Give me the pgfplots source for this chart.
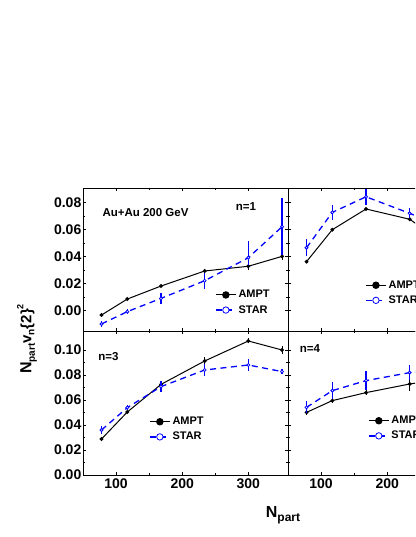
\documentclass[border=0pt]{standalone}
\usepackage{fontspec}
\setmainfont{Liberation Sans}
\usepackage{pgfplots}
\usepackage{pgfplotstable}
\pgfplotsset{compat=1.18}

% n=1
\pgfplotstableread{
x y e
78 -0.0032 0.001
117 0.0086 0.001
168 0.0182 0.001
234 0.0293 0.0015
300 0.0328 0.003
351 0.0401 0.003
}\tlampt
\pgfplotstableread{
x y ep em
78 -0.0098 0.002 0.002
117 -0.0007 0.002 0.002
168 0.0091 0.004 0.004
234 0.0221 0.006 0.006
300 0.0391 0.012 0.005
351 0.0620 0.021 0.021
}\tlstar
% n=2
\pgfplotstableread{
x y e
78 0.0362 0.001
117 0.0598 0.001
168 0.0751 0.001
234 0.0675 0.0015
300 0.0450 0.002
351 0.0400 0.003
}\trampt
\pgfplotstableread{
x y ep em
78 0.0465 0.0064 0.0064
117 0.0726 0.0058 0.0058
168 0.0841 0.006 0.006
234 0.0719 0.0037 0.0037
300 0.0580 0.006 0.006
351 0.0500 0.010 0.010
}\trstar
% n=3
\pgfplotstableread{
x y e
78 0.0288 0.001
117 0.0504 0.001
168 0.0725 0.0015
234 0.0912 0.003
300 0.1072 0.002
351 0.1000 0.003
}\blampt
\pgfplotstableread{
x y ep em
78 0.0360 0.003 0.003
117 0.0539 0.002 0.002
168 0.0707 0.0047 0.0047
234 0.0840 0.005 0.005
300 0.0880 0.005 0.005
351 0.0827 0.002 0.002
}\blstar
% n=4
\pgfplotstableread{
x y e
78 0.0501 0.0025
117 0.0595 0.002
168 0.0659 0.002
234 0.0728 0.006
300 0.0780 0.006
351 0.0800 0.006
}\brampt
\pgfplotstableread{
x y ep em
78 0.0541 0.0047 0.0047
117 0.0675 0.007 0.007
168 0.0755 0.0076 0.0076
234 0.0819 0.006 0.006
300 0.0860 0.006 0.006
351 0.0880 0.006 0.006
}\brstar

\tikzset{lbl/.style={font=\bfseries\fontsize{11.5}{11.5}\selectfont}}
\pgfplotsset{
  panel/.style={scale only axis, width=205pt, height=143pt, anchor=south west,
    clip mode=individual, scaled y ticks=false, scaled x ticks=false,
    xmin=50, xmax=360, xtick={100,200,300}, minor x tick num=1, minor y tick num=1,
    tick align=inside, tick pos=both, major tick length=3pt, minor tick length=2pt,
    axis line style={line width=0.7pt}, every tick/.style={black,line width=0.6pt},
    tick label style={font=\bfseries\fontsize{14}{14}\selectfont},
    /pgf/number format/assume math mode=true,
    yticklabel style={/pgf/number format/fixed, /pgf/number format/fixed zerofill,
      /pgf/number format/precision=2, inner xsep=1.5pt},
    legend style={draw=none, fill=none, font=\bfseries\fontsize{11}{11}\selectfont,
      inner sep=0pt, row sep=2pt, anchor=west, cells={anchor=west}},
    legend image code/.code={\draw[##1, mark repeat=2, mark phase=2]
      plot coordinates {(0pt,0pt) (10pt,0pt) (20pt,0pt)};},
    legend image post style={mark size=3.2pt},
  },
  ampt/.style={black, line width=1pt, mark=*, mark size=1.4pt,
    error bars/.cd, y dir=both, y explicit, error mark=none,
    error bar style={line width=1pt}},
  star/.style={blue, dash pattern=on 6pt off 4.5pt, line width=1.3pt, mark=*, mark size=1.5pt,
    mark options={solid, fill=white, line width=0.8pt},
    error bars/.cd, y dir=both, y explicit, error mark=none,
    error bar style={solid, line width=1.3pt}},
}

\begin{document}
\begin{tikzpicture}[x=1pt,y=1pt]
\path[use as bounding box, clip] (0,0) rectangle (415,537);

% top left, n=1
\begin{axis}[panel, at={(83pt,206pt)}, ymin=-0.015, ymax=0.0906,
  ytick={0,0.02,...,0.081}, xticklabels={},
  legend style={at={(0.644,0.199)}}]
\addplot[ampt] table[x=x,y=y,y error=e]{\tlampt};
\addplot[star] table[x=x,y=y,y error plus=ep,y error minus=em]{\tlstar};
\legend{AMPT,STAR}
\node[lbl, anchor=west] at (rel axis cs:0.078,0.825) {Au+Au 200 GeV};
\node[lbl] at (rel axis cs:0.795,0.867) {n=1};
\end{axis}

% top right, n=2
\begin{axis}[panel, at={(288pt,206pt)}, ymin=-0.015, ymax=0.0906,
  ytick={0,0.02,...,0.081}, xticklabels={}, yticklabels={},
  legend style={at={(0.376,0.267)}}]
\addplot[ampt] table[x=x,y=y,y error=e]{\trampt};
\addplot[star] table[x=x,y=y,y error plus=ep,y error minus=em]{\trstar};
\legend{AMPT,STAR}
\end{axis}

% bottom left, n=3
\begin{axis}[panel, at={(83pt,62pt)}, height=144pt, ymin=0, ymax=0.1152,
  ytick={0,0.02,...,0.101},
  legend style={at={(0.322,0.317)}}]
\addplot[ampt] table[x=x,y=y,y error=e]{\blampt};
\addplot[star] table[x=x,y=y,y error plus=ep,y error minus=em]{\blstar};
\legend{AMPT,STAR}
\node[lbl] at (rel axis cs:0.124,0.826) {n=3};
\node[rotate=90, font=\bfseries, anchor=center] at ([xshift=-56pt,yshift=-8pt]rel axis cs:0,1)
  {{\fontsize{16}{16}\selectfont N}\raisebox{-3.5pt}{\fontsize{10}{10}\selectfont part}%
   {\fontsize{15}{15}\selectfont v}\raisebox{-3pt}{\fontsize{10}{10}\selectfont n}%
   {\fontsize{15}{15}\selectfont\{2\}}\raisebox{8pt}{\fontsize{9}{9}\selectfont 2}};
\node[font=\bfseries, anchor=base] at ([xshift=-5pt,yshift=-42pt]rel axis cs:1,0)
  {{\fontsize{16}{16}\selectfont N}\raisebox{-4.5pt}{\fontsize{12}{12}\selectfont part}};
\end{axis}

% bottom right, n=4
\begin{axis}[panel, at={(288pt,62pt)}, height=144pt, ymin=0, ymax=0.1152,
  ytick={0,0.02,...,0.101}, yticklabels={},
  legend style={at={(0.39,0.324)}}]
\addplot[ampt] table[x=x,y=y,y error=e]{\brampt};
\addplot[star] table[x=x,y=y,y error plus=ep,y error minus=em]{\brstar};
\legend{AMPT,STAR}
\node[lbl] at (rel axis cs:0.107,0.875) {n=4};
\end{axis}
\end{tikzpicture}
\end{document}
